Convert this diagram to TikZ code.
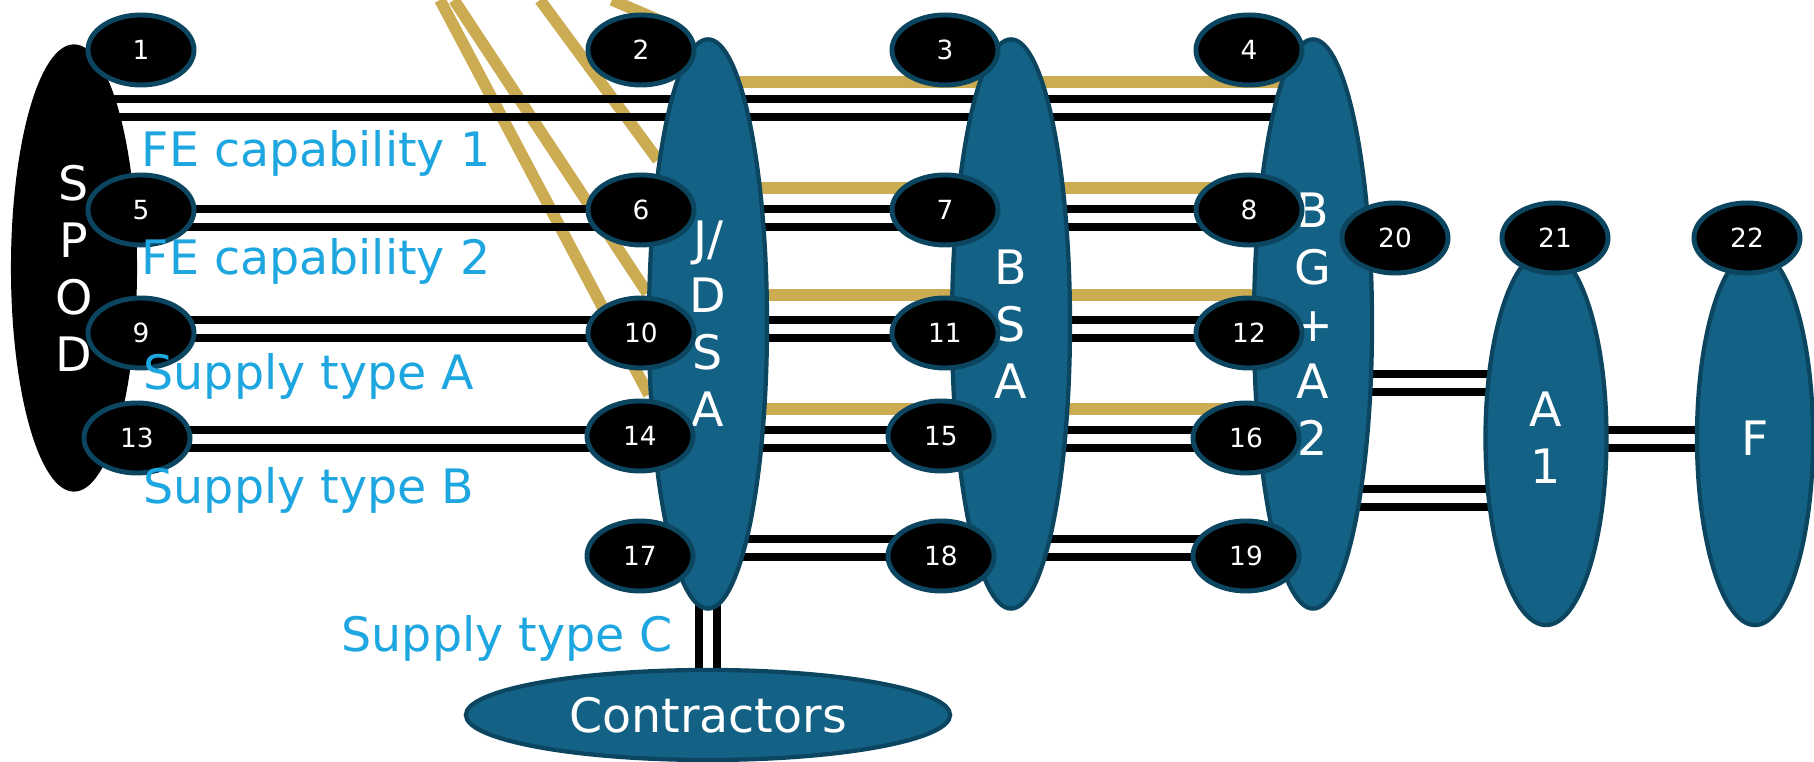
\documentclass[tikz,border=0pt]{standalone}
\usepackage{fontspec}
\setmainfont{DejaVu Sans}
\usetikzlibrary{shapes.geometric}
\definecolor{deepteal}{RGB}{19,97,132}
\definecolor{rimteal}{RGB}{12,69,96}
\definecolor{gold}{RGB}{203,172,82}
\definecolor{skyblue}{RGB}{29,166,223}
\pgfdeclarelayer{background}
\pgfsetlayers{background,main}

\begin{document}
\begin{tikzpicture}[x=0.01cm,y=-0.01cm,
    main node/.style={ellipse,draw=rimteal,line width=1.4pt,fill=black,text=white,
      minimum width=1.06cm,minimum height=0.70cm,inner sep=0pt,font=\fontsize{7.5}{9}\selectfont},
    big node/.style={ellipse,draw=rimteal,line width=1.2pt,fill=deepteal,text=white,
      inner sep=0pt,align=center,font=\fontsize{13.5}{16.2}\selectfont},
    column node/.style={big node,minimum width=1.18cm,minimum height=5.69cm},
    label text/.style={anchor=base west,inner sep=0pt,text=skyblue,font=\fontsize{13.5}{16}\selectfont},
    wire/.style={draw=black,line width=2.1pt},
    seam/.style={draw=gold,line width=3.3pt}]

  \useasboundingbox (0,0) rectangle (1814,762);

  \node[big node,fill=black,draw=none,minimum width=1.26cm,minimum height=4.47cm] (spod) at (74,268) {S\\P\\O\\D};
  \node[column node] (jdsa) at (708,324) {J/\\D\\S\\A};
  \node[column node] (bsa) at (1011,324) {B\\S\\A};
  \node[column node] (bga) at (1313,324) {B\\G\\+\\A\\2};
  \node[big node,minimum width=1.21cm,minimum height=3.74cm] (a1) at (1546,438) {A\\1};
  \node[big node,minimum width=1.16cm,minimum height=3.74cm] (f) at (1755,438) {F};
  \node[big node,minimum width=4.84cm,minimum height=0.90cm] (contractors) at (708,715) {Contractors};

  \foreach \n/\x/\y in {1/141/50, 5/141/210, 9/141/333, 13/137/438,
                        2/641/50, 6/641/210, 10/641/333, 14/640/436, 17/640/556,
                        3/945/50, 7/945/210, 11/945/333, 15/941/436, 18/941/556,
                        4/1249/50, 8/1249/210, 12/1249/333, 16/1246/438, 19/1246/556,
                        20/1395/238, 21/1555/238, 22/1747/238}
    \node[main node] (\n) at (\x,\y) {\n};

  \node[label text] at (141,167) {FE capability 1};
  \node[label text] at (141,275) {FE capability 2};
  \node[label text] at (143,390) {Supply type A};
  \node[label text] at (143,504) {Supply type B};
  \node[label text] at (341,652) {Supply type C};

  \begin{pgfonlayer}{background}
    \coordinate (g1) at (440,0);
    \coordinate (g2) at (454,0);
    \coordinate (g3) at (540,0);
    \coordinate (g4) at (612,0);
    \draw[seam] (g1) -- (jdsa.230);
    \draw[seam] (g2) -- (jdsa.153);
    \draw[seam] (g3) -- (jdsa.107);
    \draw[seam,shorten >=-0.35cm] (g4) -- (2.north);
    \foreach \y in {82,188,295,409}
      \draw[seam] (jdsa |- 0,\y) -- (bga |- 0,\y);

    \foreach \y in {99,117}
      \draw[wire] (spod |- 0,\y) -- (bga |- 0,\y);
    \foreach \a/\b/\y in {5/8/209, 5/8/227, 9/12/320, 9/12/338, 13/16/430, 13/16/448,
                          17/19/539, 17/19/557, bga/a1/374, bga/a1/392,
                          bga/a1/489, bga/a1/507, a1/f/430, a1/f/448}
      \draw[wire] (\a |- 0,\y) -- (\b |- 0,\y);
    \foreach \x in {699,717}
      \draw[wire] (\x,0 |- jdsa) -- (\x,0 |- contractors);
  \end{pgfonlayer}
\end{tikzpicture}
\end{document}
